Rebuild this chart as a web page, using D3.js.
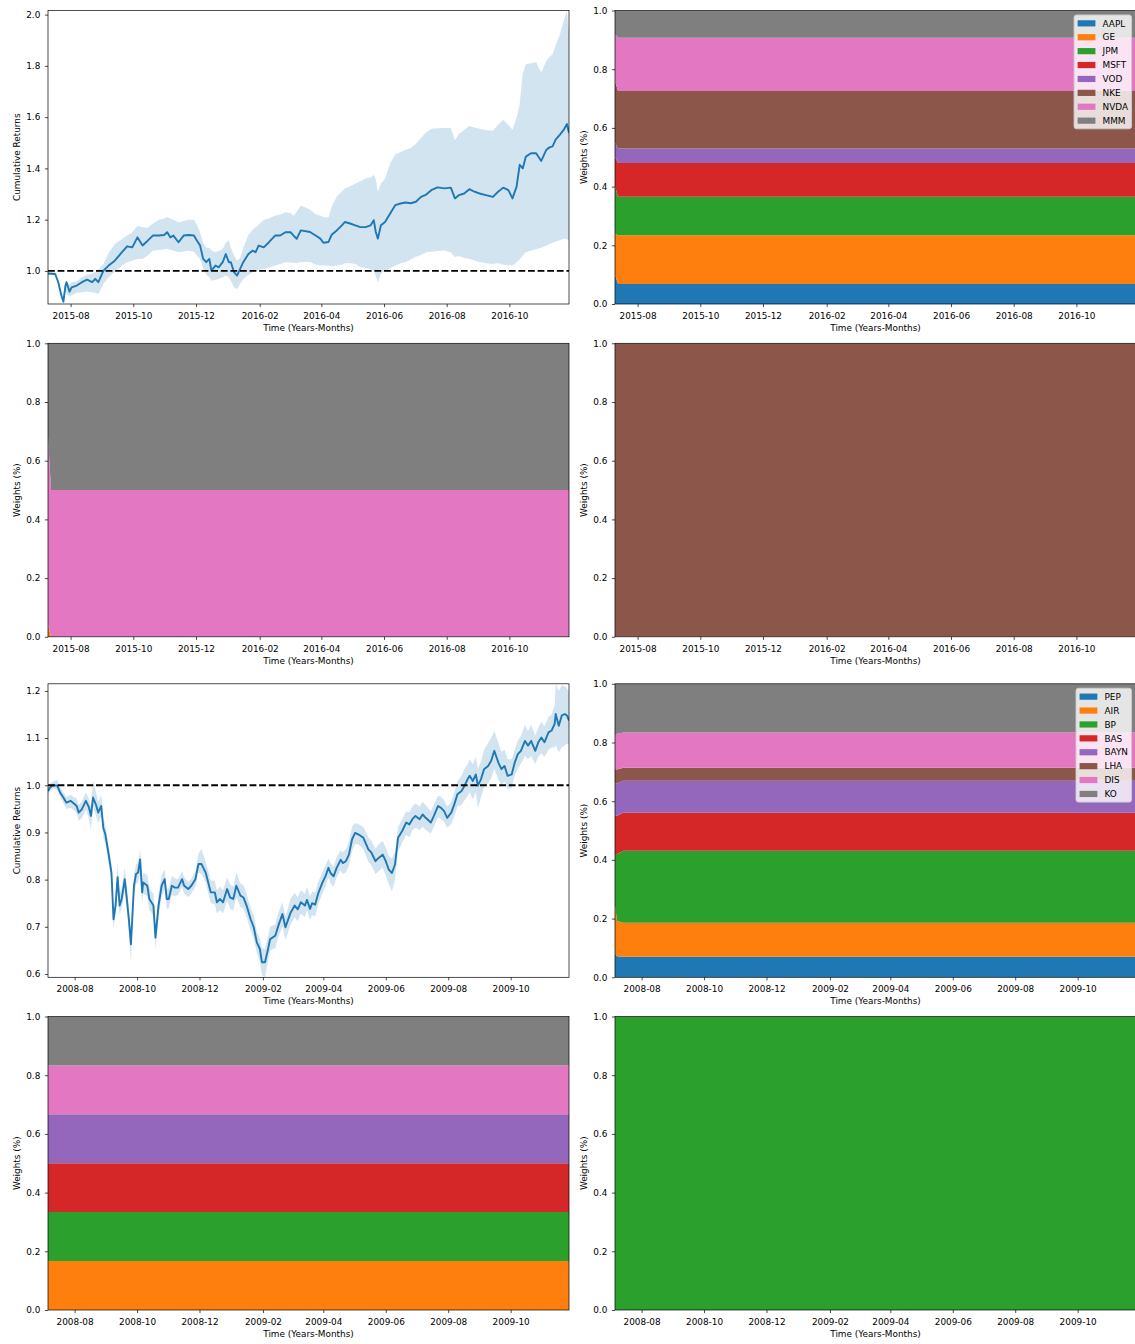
<!DOCTYPE html>
<html><head><meta charset="utf-8">
<script src="https://cdn.jsdelivr.net/npm/d3@7"></script>
<style>
body{margin:0;background:#fff;}
svg text{font-family:"DejaVu Sans",sans-serif;}
</style></head><body>
<svg id="chart" width="1135" height="1344"></svg>
<script>
// ---------------- DATA ----------------
const p1Dates = ["2015-07-10","2015-07-17","2015-07-20","2015-07-23","2015-07-25","2015-07-27","2015-07-28","2015-07-31","2015-08-02","2015-08-07","2015-08-12","2015-08-17","2015-08-22","2015-08-25","2015-08-28","2015-09-02","2015-09-07","2015-09-13","2015-09-20","2015-09-25","2015-09-30","2015-10-05","2015-10-10","2015-10-15","2015-10-20","2015-10-26","2015-10-31","2015-11-03","2015-11-06","2015-11-09","2015-11-14","2015-11-19","2015-11-24","2015-11-29","2015-12-02","2015-12-05","2015-12-08","2015-12-11","2015-12-14","2015-12-16","2015-12-20","2015-12-23","2015-12-27","2015-12-30","2016-01-02","2016-01-04","2016-01-07","2016-01-10","2016-01-13","2016-01-16","2016-01-21","2016-01-25","2016-01-28","2016-01-31","2016-02-05","2016-02-10","2016-02-16","2016-02-21","2016-02-26","2016-03-02","2016-03-05","2016-03-08","2016-03-12","2016-03-21","2016-03-26","2016-03-31","2016-04-03","2016-04-08","2016-04-11","2016-04-16","2016-04-21","2016-04-24","2016-04-29","2016-05-04","2016-05-09","2016-05-14","2016-05-19","2016-05-22","2016-05-24","2016-05-26","2016-05-29","2016-06-02","2016-06-07","2016-06-12","2016-06-17","2016-06-22","2016-06-27","2016-07-02","2016-07-07","2016-07-12","2016-07-17","2016-07-23","2016-07-30","2016-08-05","2016-08-09","2016-08-13","2016-08-18","2016-08-23","2016-08-28","2016-09-02","2016-09-08","2016-09-15","2016-09-20","2016-09-25","2016-09-30","2016-10-04","2016-10-08","2016-10-11","2016-10-14","2016-10-17","2016-10-22","2016-10-27","2016-11-01","2016-11-06","2016-11-09","2016-11-12","2016-11-15","2016-11-19","2016-11-23","2016-11-26","2016-11-28"];
const p1Mean = [0.990,0.988,0.956,0.904,0.880,0.943,0.956,0.919,0.936,0.943,0.956,0.966,0.956,0.969,0.956,1.001,1.021,1.040,1.073,1.096,1.092,1.131,1.099,1.118,1.138,1.138,1.140,1.151,1.131,1.138,1.112,1.138,1.140,1.138,1.118,1.099,1.047,1.034,1.047,1.001,1.021,1.014,1.034,1.066,1.034,1.034,0.995,0.982,1.008,1.034,1.066,1.079,1.073,1.099,1.092,1.112,1.138,1.138,1.151,1.151,1.138,1.125,1.158,1.152,1.139,1.126,1.110,1.113,1.141,1.158,1.178,1.191,1.185,1.178,1.171,1.171,1.178,1.198,1.152,1.126,1.178,1.191,1.224,1.257,1.263,1.267,1.264,1.270,1.289,1.298,1.315,1.326,1.322,1.325,1.283,1.296,1.302,1.319,1.309,1.302,1.296,1.289,1.309,1.325,1.315,1.283,1.329,1.414,1.400,1.446,1.459,1.459,1.429,1.473,1.482,1.486,1.512,1.531,1.551,1.573,1.538];
const p1Upper = [0.995,0.995,0.962,0.912,0.904,0.956,0.962,0.945,0.956,0.960,0.975,0.985,0.990,0.995,1.005,1.027,1.070,1.105,1.125,1.138,1.151,1.175,1.170,1.168,1.184,1.200,1.205,1.210,1.205,1.200,1.190,1.195,1.200,1.200,1.180,1.150,1.110,1.090,1.090,1.080,1.073,1.078,1.086,1.110,1.120,1.090,1.060,1.040,1.050,1.090,1.140,1.160,1.170,1.180,1.200,1.205,1.216,1.220,1.229,1.225,1.216,1.230,1.255,1.240,1.222,1.215,1.210,1.208,1.250,1.290,1.310,1.322,1.330,1.340,1.350,1.361,1.365,1.374,1.360,1.309,1.340,1.361,1.420,1.455,1.463,1.473,1.480,1.495,1.520,1.540,1.555,1.557,1.558,1.558,1.510,1.535,1.550,1.565,1.560,1.555,1.550,1.547,1.570,1.590,1.570,1.551,1.600,1.650,1.770,1.806,1.810,1.815,1.774,1.820,1.835,1.846,1.880,1.920,1.977,2.016,1.924];
const p1Lower = [0.986,0.982,0.950,0.895,0.871,0.920,0.912,0.900,0.905,0.915,0.917,0.920,0.917,0.915,0.910,0.950,0.975,0.998,1.020,1.034,1.040,1.047,1.047,1.060,1.079,1.082,1.085,1.086,1.083,1.080,1.073,1.076,1.079,1.075,1.060,1.047,1.010,0.985,0.975,0.962,0.965,0.969,0.975,0.982,0.975,0.960,0.936,0.930,0.950,0.969,0.985,0.995,1.000,1.005,1.008,1.012,1.021,1.027,1.034,1.033,1.032,1.031,1.035,1.035,1.025,1.021,1.021,1.021,1.018,1.020,1.024,1.030,1.030,1.027,1.015,1.010,1.008,1.000,0.980,0.955,0.990,1.001,1.010,1.020,1.030,1.034,1.045,1.055,1.062,1.073,1.075,1.078,1.080,1.072,1.054,1.058,1.050,1.048,1.041,1.035,1.030,1.027,1.030,1.024,1.022,1.021,1.035,1.045,1.060,1.073,1.080,1.085,1.090,1.099,1.105,1.110,1.115,1.120,1.126,1.124,1.119];

const p3Dates = ["2008-07-06","2008-07-08","2008-07-11","2008-07-15","2008-07-18","2008-07-21","2008-07-24","2008-07-28","2008-07-31","2008-08-03","2008-08-05","2008-08-08","2008-08-12","2008-08-15","2008-08-17","2008-08-19","2008-08-22","2008-08-24","2008-08-27","2008-08-29","2008-08-31","2008-09-03","2008-09-06","2008-09-08","2008-09-10","2008-09-12","2008-09-14","2008-09-16","2008-09-19","2008-09-21","2008-09-23","2008-09-25","2008-09-28","2008-09-30","2008-10-02","2008-10-04","2008-10-06","2008-10-07","2008-10-11","2008-10-13","2008-10-15","2008-10-17","2008-10-19","2008-10-22","2008-10-25","2008-10-28","2008-10-30","2008-11-01","2008-11-04","2008-11-07","2008-11-10","2008-11-14","2008-11-16","2008-11-20","2008-11-23","2008-11-27","2008-11-30","2008-12-03","2008-12-07","2008-12-10","2008-12-12","2008-12-16","2008-12-18","2008-12-21","2008-12-24","2008-12-28","2008-12-31","2009-01-03","2009-01-06","2009-01-10","2009-01-13","2009-01-16","2009-01-20","2009-01-23","2009-01-26","2009-01-29","2009-01-31","2009-02-03","2009-02-06","2009-02-08","2009-02-13","2009-02-16","2009-02-20","2009-02-23","2009-02-28","2009-03-04","2009-03-07","2009-03-10","2009-03-14","2009-03-16","2009-03-19","2009-03-21","2009-03-24","2009-03-27","2009-03-31","2009-04-03","2009-04-06","2009-04-08","2009-04-11","2009-04-14","2009-04-18","2009-04-20","2009-04-23","2009-04-26","2009-04-29","2009-05-02","2009-05-05","2009-05-10","2009-05-15","2009-05-18","2009-05-22","2009-05-25","2009-05-29","2009-06-01","2009-06-04","2009-06-07","2009-06-10","2009-06-13","2009-06-17","2009-06-21","2009-06-24","2009-06-27","2009-06-30","2009-07-04","2009-07-07","2009-07-10","2009-07-15","2009-07-18","2009-07-22","2009-07-25","2009-07-28","2009-07-31","2009-08-04","2009-08-07","2009-08-10","2009-08-14","2009-08-17","2009-08-20","2009-08-22","2009-08-25","2009-08-28","2009-08-30","2009-09-02","2009-09-05","2009-09-09","2009-09-12","2009-09-15","2009-09-19","2009-09-22","2009-09-25","2009-09-28","2009-10-02","2009-10-05","2009-10-08","2009-10-11","2009-10-15","2009-10-18","2009-10-21","2009-10-25","2009-10-28","2009-10-31","2009-11-03","2009-11-07","2009-11-10","2009-11-13","2009-11-14","2009-11-17","2009-11-20","2009-11-23","2009-11-25","2009-11-27"];
const p3Mean = [0.988,0.995,1.000,0.999,0.984,0.974,0.963,0.967,0.962,0.956,0.942,0.949,0.967,0.953,0.935,0.974,0.958,0.942,0.956,0.910,0.896,0.857,0.815,0.716,0.745,0.805,0.745,0.759,0.801,0.759,0.716,0.663,0.787,0.812,0.815,0.843,0.773,0.794,0.787,0.759,0.752,0.745,0.677,0.745,0.787,0.801,0.759,0.759,0.787,0.783,0.783,0.801,0.787,0.780,0.787,0.801,0.833,0.833,0.815,0.790,0.773,0.773,0.752,0.759,0.752,0.780,0.762,0.759,0.787,0.766,0.762,0.745,0.716,0.699,0.667,0.653,0.625,0.625,0.653,0.674,0.681,0.702,0.727,0.699,0.730,0.745,0.737,0.752,0.745,0.757,0.738,0.750,0.747,0.771,0.793,0.807,0.825,0.814,0.807,0.825,0.842,0.835,0.839,0.853,0.885,0.899,0.896,0.889,0.864,0.857,0.839,0.846,0.853,0.839,0.821,0.814,0.832,0.889,0.903,0.921,0.917,0.928,0.935,0.928,0.938,0.931,0.921,0.935,0.956,0.952,0.945,0.931,0.942,0.960,0.981,0.988,0.999,1.013,1.020,1.009,1.023,0.999,1.013,1.034,1.041,1.052,1.073,1.048,1.034,1.041,1.020,1.023,1.048,1.066,1.073,1.094,1.084,1.094,1.073,1.091,1.101,1.091,1.112,1.116,1.130,1.151,1.126,1.148,1.151,1.148,1.137];
const p3Upper = [0.995,1.003,1.008,1.011,0.995,0.985,0.975,0.980,0.975,0.972,0.958,0.965,0.985,0.972,0.955,1.010,0.985,0.965,0.980,0.930,0.915,0.875,0.835,0.730,0.765,0.836,0.770,0.785,0.825,0.785,0.740,0.690,0.810,0.832,0.835,0.865,0.800,0.815,0.810,0.785,0.775,0.770,0.702,0.770,0.810,0.822,0.780,0.782,0.808,0.803,0.800,0.818,0.805,0.795,0.802,0.818,0.855,0.865,0.838,0.815,0.798,0.798,0.778,0.785,0.778,0.805,0.790,0.785,0.815,0.792,0.788,0.770,0.740,0.725,0.690,0.675,0.655,0.653,0.680,0.700,0.705,0.730,0.752,0.722,0.760,0.772,0.762,0.778,0.770,0.785,0.765,0.775,0.772,0.795,0.815,0.830,0.845,0.835,0.828,0.848,0.862,0.858,0.865,0.880,0.912,0.920,0.918,0.912,0.890,0.882,0.865,0.875,0.882,0.868,0.850,0.845,0.860,0.912,0.928,0.945,0.942,0.955,0.962,0.955,0.965,0.958,0.945,0.960,0.978,0.975,0.968,0.955,0.965,0.985,1.008,1.020,1.035,1.045,1.055,1.045,1.060,1.035,1.050,1.075,1.090,1.100,1.115,1.090,1.070,1.075,1.055,1.055,1.075,1.095,1.105,1.128,1.115,1.128,1.105,1.122,1.135,1.125,1.145,1.150,1.170,1.215,1.200,1.212,1.210,1.205,1.197];
const p3Lower = [0.982,0.988,0.993,0.990,0.975,0.962,0.950,0.952,0.948,0.940,0.925,0.930,0.948,0.930,0.905,0.955,0.935,0.920,0.935,0.890,0.875,0.838,0.795,0.695,0.725,0.773,0.725,0.740,0.775,0.735,0.690,0.625,0.765,0.790,0.795,0.815,0.750,0.770,0.765,0.735,0.730,0.722,0.653,0.720,0.765,0.780,0.738,0.740,0.768,0.765,0.768,0.785,0.770,0.763,0.770,0.785,0.815,0.812,0.795,0.768,0.750,0.748,0.728,0.735,0.728,0.755,0.738,0.735,0.762,0.742,0.738,0.720,0.692,0.675,0.645,0.625,0.598,0.593,0.628,0.650,0.655,0.678,0.700,0.672,0.705,0.720,0.712,0.728,0.720,0.735,0.715,0.725,0.722,0.748,0.770,0.785,0.805,0.792,0.785,0.805,0.820,0.812,0.815,0.830,0.860,0.875,0.875,0.865,0.838,0.830,0.812,0.818,0.825,0.808,0.790,0.775,0.800,0.860,0.878,0.895,0.890,0.905,0.910,0.905,0.912,0.905,0.898,0.912,0.932,0.928,0.922,0.910,0.918,0.935,0.955,0.958,0.968,0.978,0.985,0.970,0.985,0.950,0.975,0.995,1.005,1.015,1.035,1.012,1.000,1.008,0.992,0.995,1.020,1.035,1.045,1.062,1.055,1.062,1.045,1.060,1.068,1.060,1.075,1.080,1.080,1.085,1.070,1.080,1.085,1.088,1.087];

const refLevel = 1.0;

const assetsA = ["AAPL","GE","JPM","MSFT","VOD","NKE","NVDA","MMM"];
const assetsB = ["PEP","AIR","BP","BAS","BAYN","LHA","DIS","KO"];

const wDatesA = ["2015-07-10","2015-07-13","2016-11-28"];
// rows follow assetsA order
const weightsTopRight = [
  [0.100,0.068,0.068],[0.140,0.166,0.166],[0.160,0.131,0.131],[0.100,0.115,0.115],
  [0.050,0.050,0.050],[0.210,0.196,0.196],[0.160,0.181,0.181],[0.080,0.093,0.093]];
const weightsSecondLeft = [
  [0,0,0],[0.040,0,0],[0,0,0],[0,0,0],[0,0,0],[0,0,0],[0.640,0.500,0.500],[0.320,0.500,0.500]];
const weightsSecondRight = [
  [0,0,0],[0,0,0],[0,0,0],[0,0,0],[0,0,0],[1,1,1],[0,0,0],[0,0,0]];

const wDatesB = ["2008-07-06","2008-07-08","2008-07-14","2009-11-27"];
// rows follow assetsB order
const weightsThirdRight = [
  [0.080,0.072,0.070,0.070],[0.165,0.120,0.116,0.116],[0.175,0.228,0.245,0.245],[0.130,0.130,0.130,0.130],
  [0.110,0.110,0.109,0.109],[0.050,0.048,0.044,0.044],[0.115,0.122,0.120,0.120],[0.175,0.170,0.166,0.166]];
const wDatesB2 = ["2008-07-06","2009-11-27"];
const weightsFourthLeft = [
  [0,0],[0.167,0.167],[0.167,0.167],[0.166,0.166],[0.167,0.167],[0,0],[0.166,0.166],[0.167,0.167]];
const weightsFourthRight = [
  [0,0],[0,0],[1,1],[0,0],[0,0],[0,0],[0,0],[0,0]];

const xTicksA = ["2015-08","2015-10","2015-12","2016-02","2016-04","2016-06","2016-08","2016-10"];
const xTicksB = ["2008-08","2008-10","2008-12","2009-02","2009-04","2009-06","2009-08","2009-10"];
const yTicksP1 = [1.0,1.2,1.4,1.6,1.8,2.0];
const yTicksP3 = [0.6,0.7,0.8,0.9,1.0,1.1,1.2];
const yTicksW = [0.0,0.2,0.4,0.6,0.8,1.0];

// ---------------- LAYOUT ----------------
const svg = d3.select("#chart");
const FS = 8.9;
const COLX = [48, 615], AXW = 521;
const ROWY = [10.5, 343.3, 683.8, 1016.5], AXH = 293.5;
const TAB = d3.schemeCategory10;
const parseDay = d3.timeParse("%Y-%m-%d");
const parseMonth = d3.timeParse("%Y-%m");
const fmtMonth = d3.timeFormat("%Y-%m");
const fmtY = d3.format(".1f");

function makeAxes(col,row,xDomain,yDomain,xTicks,yTicks,ylabel){
  const g = svg.append("g").attr("transform",`translate(${COLX[col]},${ROWY[row]})`);
  const x = d3.scaleTime().domain(xDomain).range([0,AXW]);
  const y = d3.scaleLinear().domain(yDomain).range([AXH,0]);
  const id = `clip_${col}_${row}`;
  g.append("clipPath").attr("id",id).append("rect").attr("width",AXW).attr("height",AXH);
  const plot = g.append("g").attr("clip-path",`url(#${id})`);
  function finish(){
    const gx = g.append("g").attr("transform",`translate(0,${AXH})`)
      .call(d3.axisBottom(x).tickValues(xTicks.map(parseMonth)).tickFormat(fmtMonth)
        .tickSize(3.1).tickPadding(5.3).tickSizeOuter(0));
    const gy = g.append("g")
      .call(d3.axisLeft(y).tickValues(yTicks).tickFormat(fmtY)
        .tickSize(3.1).tickPadding(4.6).tickSizeOuter(0));
    [gx,gy].forEach(a=>{
      a.select(".domain").remove();
      a.attr("font-size",FS).attr("font-family","DejaVu Sans");
      a.selectAll("text").attr("fill","#000");
      a.selectAll("line").attr("stroke","#000").attr("stroke-width",0.7);
    });
    g.append("rect").attr("width",AXW).attr("height",AXH)
      .attr("fill","none").attr("stroke","#000").attr("stroke-width",0.7);
    g.append("text").attr("x",AXW/2).attr("y",AXH+27.2).attr("text-anchor","middle")
      .attr("font-size",FS).attr("fill","#000").text("Time (Years-Months)");
    g.append("text").attr("transform",`translate(-28.3,${AXH/2}) rotate(-90)`)
      .attr("text-anchor","middle").attr("font-size",FS).attr("fill","#000").text(ylabel);
  }
  return {g,plot,x,y,finish};
}

function returnsPanel(col,row,dates,mean,upper,lower,xTicks,yTicks){
  const ds = dates.map(parseDay);
  const A = makeAxes(col,row,d3.extent(ds),[d3.min(lower),d3.max(upper)],xTicks,yTicks,"Cumulative Returns");
  const idx = d3.range(ds.length);
  A.plot.append("path").datum(idx)
    .attr("d", d3.area().x(i=>A.x(ds[i])).y0(i=>A.y(lower[i])).y1(i=>A.y(upper[i])))
    .attr("fill","#1f77b4").attr("fill-opacity",0.2);
  A.plot.append("path").datum(idx)
    .attr("d", d3.line().x(i=>A.x(ds[i])).y(i=>A.y(mean[i])))
    .attr("fill","none").attr("stroke","#1f77b4").attr("stroke-width",1.9)
    .attr("stroke-linejoin","round");
  A.plot.append("path").datum(A.x.domain())
    .attr("d", d3.line().x(d=>A.x(d)).y(()=>A.y(refLevel)))
    .attr("stroke","#000").attr("stroke-width",1.8).attr("stroke-dasharray","6.8,2.8");
  A.finish();
}

function weightsPanel(col,row,dates,assets,weights,xTicks,legend){
  const ds = dates.map(parseDay);
  const rows = ds.map((d,i)=>{const r={date:d}; assets.forEach((a,k)=>{r[a]=weights[k][i];}); return r;});
  const series = d3.stack().keys(assets)(rows);
  const A = makeAxes(col,row,d3.extent(ds),[0,1],xTicks,yTicksW,"Weights (%)");
  A.plot.selectAll("path.layer").data(series).join("path").attr("class","layer")
    .attr("fill",(s,k)=>TAB[k])
    .attr("d", d3.area().x(p=>A.x(p.data.date)).y0(p=>A.y(p[0])).y1(p=>A.y(p[1])));
  A.finish();
  if(legend){
    const lg = A.g.append("g");
    const box = lg.append("rect");
    const pitch = 13.9, top = 4.45, pad = 3.56, hl = 17.8, htp = 7.1;
    const texts = assets.map((a,k)=>lg.append("text").attr("font-size",FS).attr("fill","#000").text(a));
    const maxW = d3.max(texts, t=>t.node().getComputedTextLength());
    const bw = pad + hl + htp + maxW + pad;
    const bh = 2*pad + 8*9.45 + 7*4.45;
    const left = AXW - 4.45 - bw;
    box.attr("x",left).attr("y",top).attr("width",bw).attr("height",bh).attr("rx",2.5)
      .attr("fill","#fff").attr("fill-opacity",0.8).attr("stroke","#cccccc").attr("stroke-width",0.9);
    assets.forEach((a,k)=>{
      const cy = top + 8.4 + k*pitch;
      lg.append("rect").attr("x",left+pad).attr("y",cy-3.1).attr("width",hl).attr("height",6.2).attr("fill",TAB[k]);
      texts[k].attr("x",left+pad+hl+htp).attr("y",cy+3.2);
    });
  }
}

returnsPanel(0,0,p1Dates,p1Mean,p1Upper,p1Lower,xTicksA,yTicksP1);
weightsPanel(1,0,wDatesA,assetsA,weightsTopRight,xTicksA,true);
weightsPanel(0,1,wDatesA,assetsA,weightsSecondLeft,xTicksA,false);
weightsPanel(1,1,wDatesA,assetsA,weightsSecondRight,xTicksA,false);
returnsPanel(0,2,p3Dates,p3Mean,p3Upper,p3Lower,xTicksB,yTicksP3);
weightsPanel(1,2,wDatesB,assetsB,weightsThirdRight,xTicksB,true);
weightsPanel(0,3,wDatesB2,assetsB,weightsFourthLeft,xTicksB,false);
weightsPanel(1,3,wDatesB2,assetsB,weightsFourthRight,xTicksB,false);
</script></body></html>
